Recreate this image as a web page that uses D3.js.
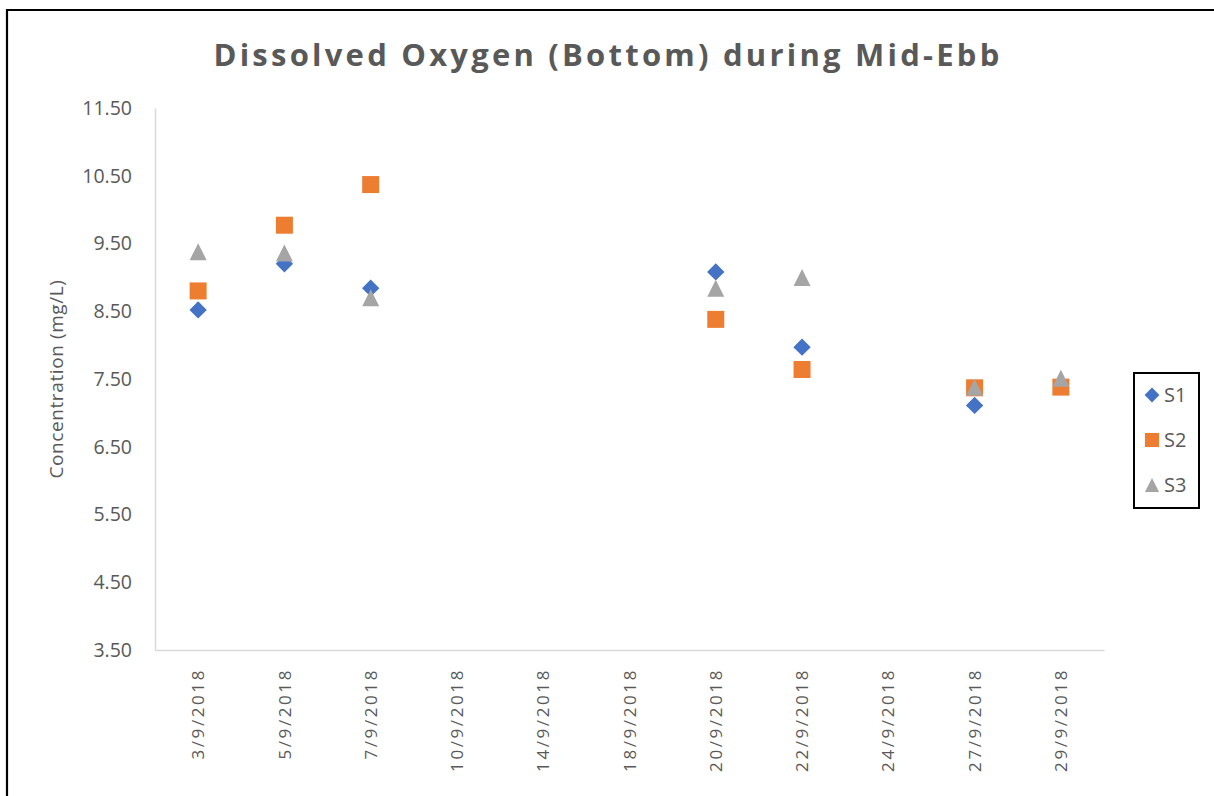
<!DOCTYPE html>
<html>
<head>
<meta charset="utf-8">
<script src="https://cdn.jsdelivr.net/npm/d3@7"></script>
<style>
  body { margin: 0; background: #fff; }
  text { font-family: "Open Sans", sans-serif; fill: #595959; }
</style>
</head>
<body>
<svg id="chart" width="1214" height="796"></svg>
<script>
const dates = ['3/9/2018', '5/9/2018', '7/9/2018', '10/9/2018', '14/9/2018', '18/9/2018',
  '20/9/2018', '22/9/2018', '24/9/2018', '27/9/2018', '29/9/2018'];
const s1 = [8.52, 9.20, 8.84, null, null, null, 9.08, 7.97, null, 7.11, null];
const s2 = [8.80, 9.77, 10.37, null, null, null, 8.38, 7.64, null, 7.37, 7.38];
const s3 = [9.38, 9.36, 8.70, null, null, null, 8.84, 9.00, null, 7.38, 7.51];
const yTicks = [3.5, 4.5, 5.5, 6.5, 7.5, 8.5, 9.5, 10.5, 11.5];

const svg = d3.select('#chart');

// outer frame
svg.append('path')
  .attr('d', 'M7,800 L7,10 L1220,10')
  .attr('fill', 'none')
  .attr('stroke', '#000')
  .attr('stroke-width', 2.2);

const x = d3.scaleBand().domain(dates).range([155, 1104]);
const y = d3.scaleLinear().domain([3.5, 11.5]).range([650, 108]);

// title, spread to width
const title = svg.append('text')
  .attr('x', 608).attr('y', 66)
  .attr('text-anchor', 'middle')
  .style('font-size', '31px')
  .style('font-weight', 'bold')
  .text('Dissolved Oxygen (Bottom) during Mid-Ebb');
const tw = title.node().getComputedTextLength();
const nch = title.text().length;
title.style('letter-spacing', ((789 - tw) / nch) + 'px');

// y axis
const ya = svg.append('g')
  .attr('transform', 'translate(155,0)')
  .call(d3.axisLeft(y).tickValues(yTicks).tickFormat(d3.format('.2f')).tickSize(0).tickPadding(23));
ya.select('.domain').attr('stroke', '#d9d9d9').attr('stroke-width', 1.5);
ya.selectAll('text').style('font-size', '19.5px').attr('fill', '#595959');

svg.append('text')
  .attr('transform', 'translate(63,379) rotate(-90)')
  .attr('text-anchor', 'middle')
  .style('font-size', '19px')
  .style('letter-spacing', '0.6px')
  .text('Concentration (mg/L)');

// x axis
const xa = svg.append('g')
  .attr('transform', 'translate(0,650)')
  .call(d3.axisBottom(x).tickSize(0).tickSizeOuter(0));
xa.select('.domain').attr('stroke', '#d9d9d9').attr('stroke-width', 1.5);
xa.selectAll('text')
  .attr('transform', 'rotate(-90)')
  .attr('x', -18).attr('y', 0).attr('dy', '0.36em')
  .style('text-anchor', 'end')
  .style('font-size', '17px')
  .style('letter-spacing', '2.6px')
  .attr('fill', '#595959');

const triangle = {
  draw(ctx, size) {
    const s = Math.sqrt(size) / 2;
    ctx.moveTo(0, -s); ctx.lineTo(s, s); ctx.lineTo(-s, s); ctx.closePath();
  }
};

const series = [
  { name: 'S1', values: s1, color: '#4472C4', sym: d3.symbol(d3.symbolSquare, 150), rot: 45 },
  { name: 'S2', values: s2, color: '#ED7D31', sym: d3.symbol(d3.symbolSquare, 289), rot: 0 },
  { name: 'S3', values: s3, color: '#A5A5A5', sym: d3.symbol(triangle, 289), rot: 0 }
];

const cx = d => x(d.date) + x.bandwidth() / 2;

series.forEach(s => {
  const pts = dates.map((d, i) => ({ date: d, v: s.values[i] })).filter(p => p.v != null);
  svg.append('g').selectAll('path')
    .data(pts)
    .join('path')
    .attr('d', s.sym)
    .attr('fill', s.color)
    .attr('transform', d => `translate(${cx(d)},${y(d.v)}) rotate(${s.rot})`);
});

// legend
const lg = svg.append('g');
lg.append('rect')
  .attr('x', 1134).attr('y', 373).attr('width', 65).attr('height', 135)
  .attr('fill', '#fff').attr('stroke', '#000').attr('stroke-width', 2);
series.forEach((s, i) => {
  const ly = 395 + i * 45;
  lg.append('path')
    .attr('d', s.name === 'S1' ? d3.symbol(d3.symbolSquare, 110)() : d3.symbol(s.name === 'S2' ? d3.symbolSquare : triangle, 200)())
    .attr('fill', s.color)
    .attr('transform', `translate(1152,${ly}) rotate(${s.rot})`);
  lg.append('text')
    .attr('x', 1164).attr('y', ly).attr('dy', '0.36em')
    .style('font-size', '20px')
    .text(s.name);
});
</script>
</body>
</html>
